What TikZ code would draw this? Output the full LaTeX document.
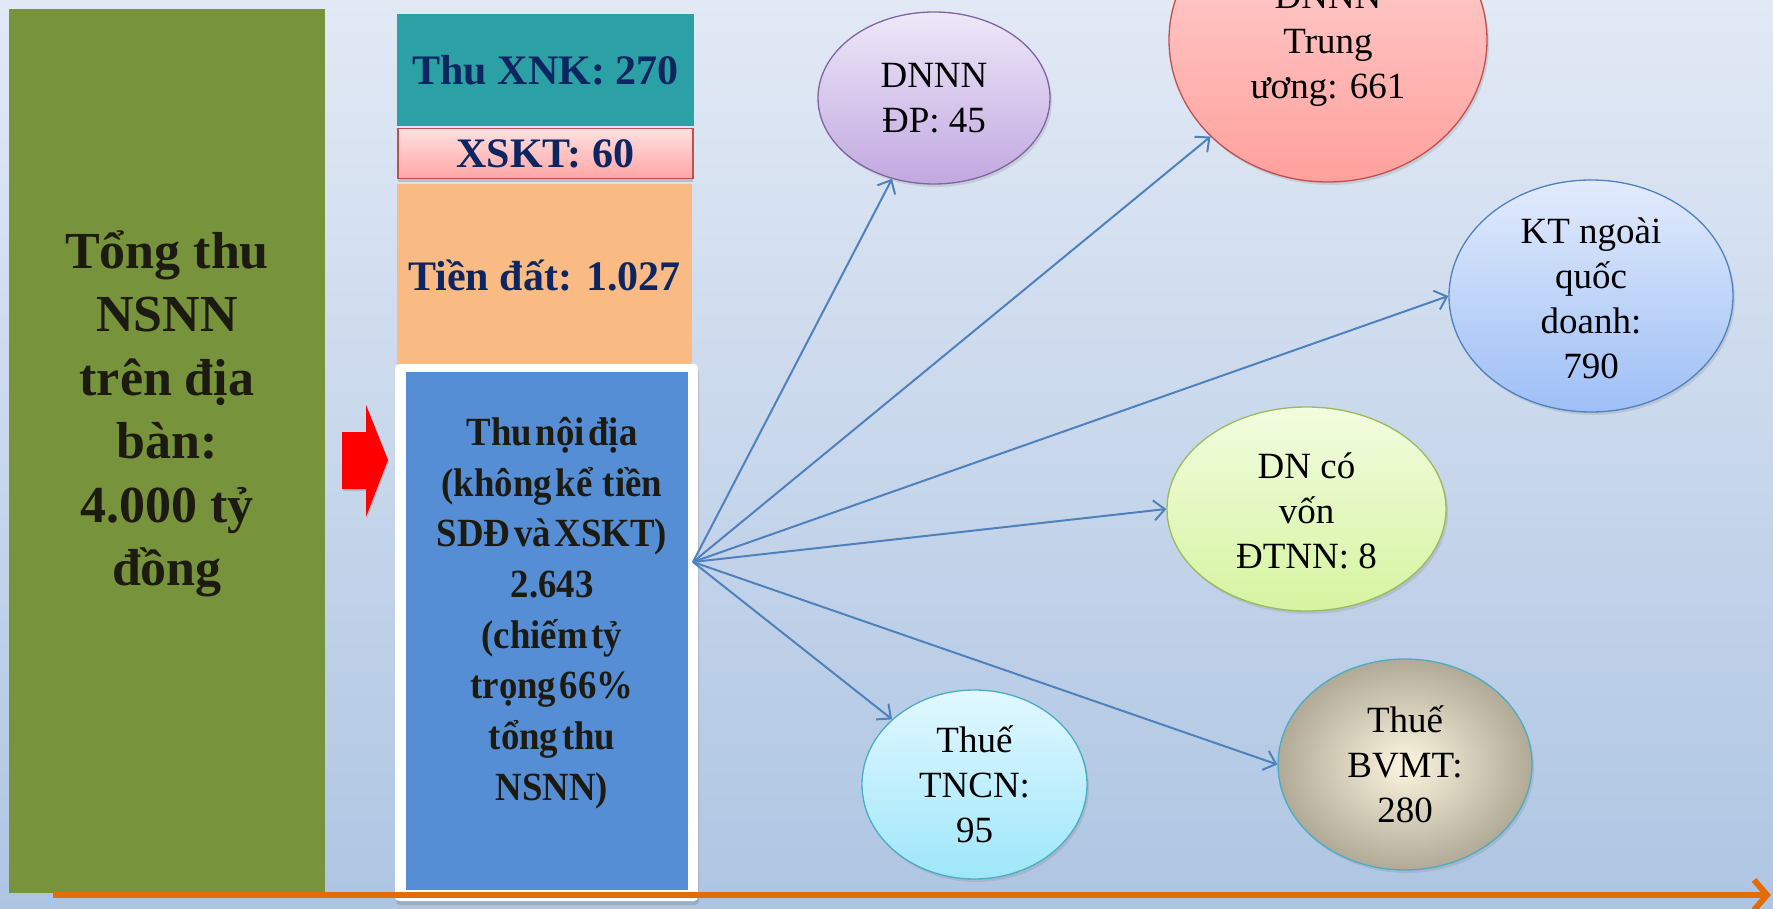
\documentclass[tikz,border=0pt]{standalone}
\usepackage{fontspec}
\setmainfont{Liberation Serif}
\newfontfamily\condfont[FakeStretch=0.92,WordSpace=0.4]{Liberation Serif}
\usetikzlibrary{shapes.geometric,arrows.meta,shadows}
\definecolor{bgtop}{HTML}{E2E9F5}
\definecolor{bgbot}{HTML}{AEC5E2}
\definecolor{olive}{HTML}{77933C}
\definecolor{tealbox}{HTML}{2CA1A5}
\definecolor{navy}{HTML}{0D2560}
\definecolor{darktxt}{HTML}{1D1B11}
\definecolor{orangebox}{HTML}{F9BA84}
\definecolor{bluebox}{HTML}{558ED5}
\definecolor{redborder}{HTML}{C0504D}
\definecolor{arrowblue}{HTML}{4F81BD}
\definecolor{orangeline}{HTML}{E36C09}
\tikzset{
  box/.style={rectangle, inner sep=0pt, anchor=center},
  boxtxt/.style={font=\fontsize{42}{50}\selectfont\bfseries, text=navy, align=center},
  ell/.style={ellipse, inner sep=0pt, line width=1.3pt,
     drop shadow={opacity=0.22, shadow xshift=2pt, shadow yshift=-3pt}},
  etext/.style={font=\fontsize{37}{45}\selectfont, text=black, align=center},
  link/.style={draw=arrowblue, line width=2pt, -{Straight Barb[length=11pt,width=20pt,line width=2pt]}},
}
\begin{document}
\begin{tikzpicture}[x=1pt,y=-1pt]
\useasboundingbox (0,0) rectangle (1773,909);
\shade[top color=bgtop, bottom color=bgbot] (0,0) rectangle (1773,909);
\clip (0,0) rectangle (1773,909);

% left olive column
\node[box, fill=olive, minimum width=316, minimum height=884] (tong) at (167,451) {};
\node[font=\fontsize{52}{63.5}\selectfont\bfseries, text=darktxt, align=center] (tongtxt) at (167,414)
  {Tổng thu\\NSNN\\trên địa\\bàn:\\4.000 tỷ\\đồng};

% stacked boxes
\node[box, fill=tealbox, minimum width=297, minimum height=112] (xnk) at (545.5,70) {};
\node[boxtxt] (xnktxt) at (545.5,70) {Thu XNK: 270};

\node[box, fill=orangebox, minimum width=295, minimum height=180,
  drop shadow={opacity=0.3, shadow xshift=0pt, shadow yshift=-2pt}] (dat) at (544.5,274) {};
\node[boxtxt] (dattxt) at (544.5,276) {Tiền đất: 1.027};

\node[box, top color=red!12!white, bottom color=red!35!white, draw=redborder, line width=1.5pt,
  minimum width=295, minimum height=50,
  drop shadow={opacity=0.35, shadow xshift=0pt, shadow yshift=-4pt}] (xskt) at (545.5,153.5) {};
\node[boxtxt] (xskttxt) at (545.5,153.5) {XSKT: 60};

% white frame + blue box
\node[box, fill=white, rounded corners=4pt, minimum width=303, minimum height=537,
  drop shadow={opacity=0.35, shadow xshift=1pt, shadow yshift=-4pt}] (frame) at (546.5,632.5) {};
\node[box, fill=bluebox, minimum width=282, minimum height=518] (noidia) at (547,631) {};
\node[font=\fontsize{40}{50.7}\selectfont\condfont\bfseries, text=darktxt, align=center] (noidiatxt) at (552,613)
  {Thu nội địa\\(không kể\, tiền\\SDĐ và XSKT)\\2.643\\(chiếm tỷ\\trọng 66\%\\tổng thu\\NSNN)};

% red block arrow
\fill[red, drop shadow={opacity=0.3, shadow xshift=1pt, shadow yshift=-2pt}]
  (342,432) -- (366,432) -- (366,405) -- (388,460) -- (366,517) -- (366,489) -- (342,489) -- cycle;

% ellipses
\node[ell, minimum width=232, minimum height=172, top color={rgb,255:red,238;green,232;blue,248},
  bottom color={rgb,255:red,193;green,168;blue,224},
  draw={rgb,255:red,128;green,100;blue,162}] (dp) at (934,98) {};
\node[etext] (dptxt) at (dp.center) {DNNN\\ĐP: 45};

\node[ell, minimum width=318, minimum height=284, top color={rgb,255:red,255;green,214;blue,214},
  bottom color={rgb,255:red,255;green,160;blue,156}, draw=redborder] (tw) at (1328,40) {};
\node[etext] (twtxt) at ([yshift=-5pt]tw.center) {DNNN\\Trung\\ương: 661};

\node[ell, minimum width=284, minimum height=232, top color={rgb,255:red,226;green,235;blue,251},
  bottom color={rgb,255:red,158;green,191;blue,246}, draw=arrowblue] (kt) at (1591,296) {};
\node[etext] (kttxt) at ([yshift=-2pt]kt.center) {KT ngoài\\quốc\\doanh:\\790};

\node[ell, minimum width=279, minimum height=204, top color={rgb,255:red,242;green,252;blue,224},
  bottom color={rgb,255:red,214;green,244;blue,160}, draw={rgb,255:red,155;green,187;blue,89}] (fdi) at (1306.5,509) {};
\node[etext] (fditxt) at ([yshift=-2pt]fdi.center) {DN có\\vốn\\ĐTNN: 8};

\node[ell, minimum width=225, minimum height=189, top color={rgb,255:red,226;green,248;blue,255},
  bottom color={rgb,255:red,158;green,230;blue,250}, draw={rgb,255:red,75;green,172;blue,198}] (tncn) at (974.5,784.5) {};
\node[etext] (tncntxt) at (tncn.center) {Thuế\\TNCN:\\95};

\node[ell, minimum width=254, minimum height=211, inner color={rgb,255:red,252;green,245;blue,224},
  outer color={rgb,255:red,176;green,170;blue,150}, draw={rgb,255:red,75;green,172;blue,198}] (bvmt) at (1405,764.5) {};
\node[etext] (bvmttxt) at (bvmt.center) {Thuế\\BVMT:\\280};

% connectors
\coordinate (hub) at (693,562);
\draw[link] (hub) -- (dp);
\draw[link] (hub) -- (tw);
\draw[link] (hub) -- (kt.west);
\draw[link] (hub) -- (fdi.west);
\draw[link] (hub) -- (tncn);
\draw[link] (hub) -- (bvmt.west);

% bottom orange axis
\coordinate (axstart) at (53,895);
\coordinate (axend) at (1771,895);
\draw[orangeline, line width=6pt, -{Straight Barb[length=13pt,width=30pt,line width=6pt]}] (axstart) -- (axend);
\end{tikzpicture}
\end{document}
